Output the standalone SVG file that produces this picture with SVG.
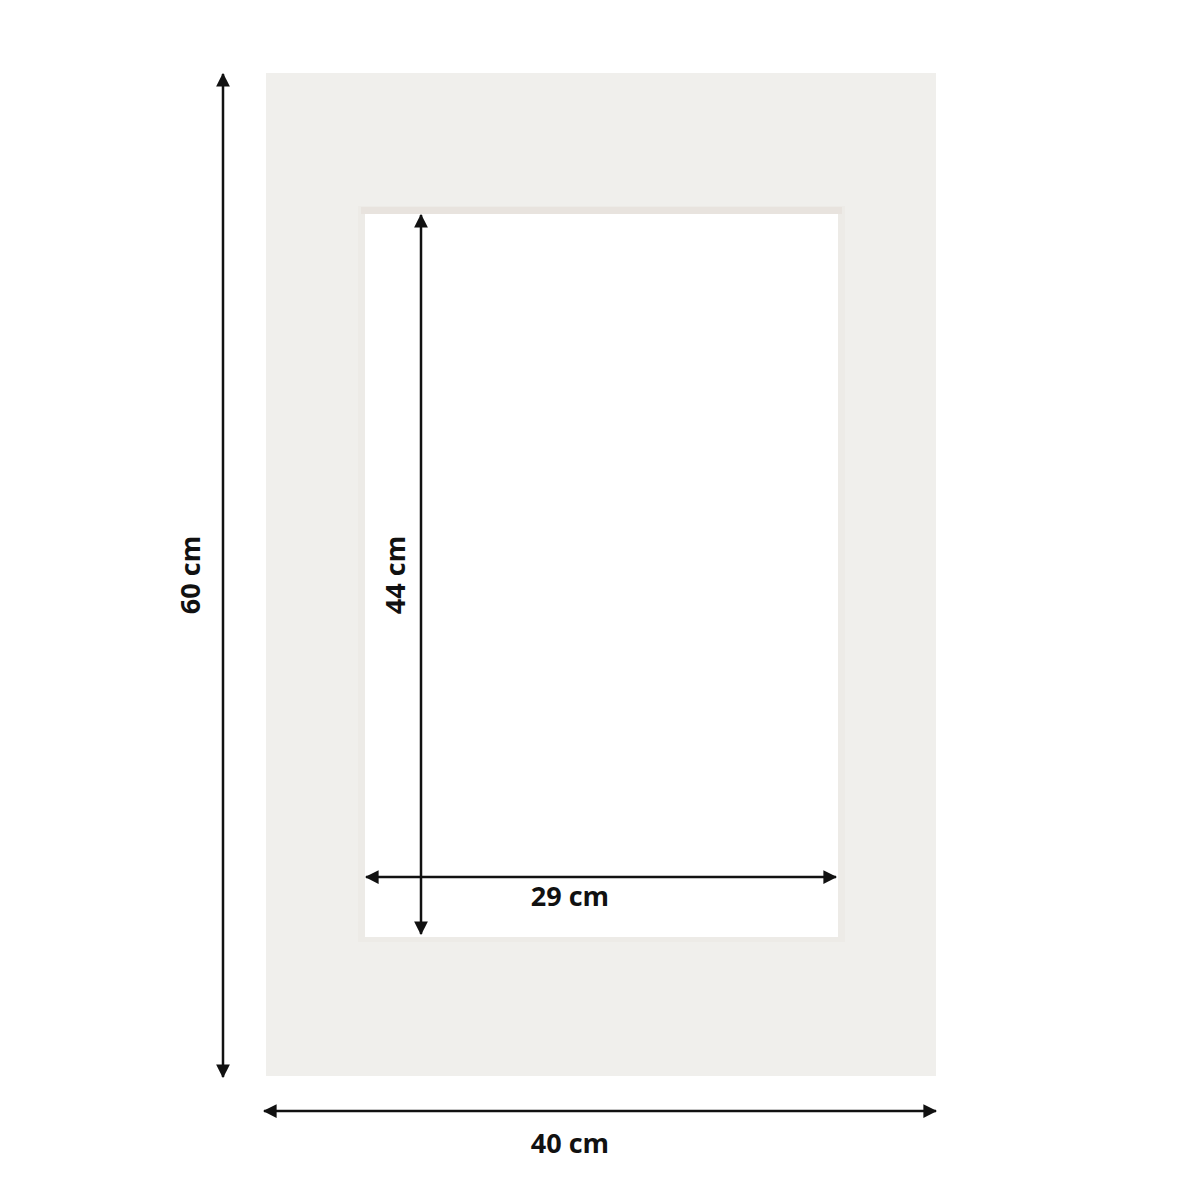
<svg xmlns="http://www.w3.org/2000/svg" width="1200" height="1200" viewBox="0 0 1200 1200">
<style>
.dim{stroke:#111;stroke-width:2.5;fill:none}
.lbl{font-family:"Open Sans","DejaVu Sans",sans-serif;font-weight:700;font-size:27px;fill:#111;text-anchor:middle}
</style>
<defs>
<marker id="ah" viewBox="0 0 12 12" refX="11" refY="6" markerWidth="5.5" markerHeight="5.5" orient="auto-start-reverse" markerUnits="strokeWidth">
<path d="M0,0 L12,6 L0,12 Z" fill="#111"/>
</marker>
</defs>
<rect width="1200" height="1200" fill="#fff"/>
<g id="mat">
<rect x="266" y="73" width="670" height="1003" fill="#f0efec"/>
<rect x="358" y="206" width="487" height="736" fill="#edebe7"/>
<rect x="361" y="207" width="481" height="7" fill="#e8e3de"/>
<rect x="365" y="214" width="473" height="723" fill="#fff"/>
</g>
<g id="connectors">
<line class="dim" x1="223" y1="74" x2="223" y2="1077" marker-start="url(#ah)" marker-end="url(#ah)"/>
<line class="dim" x1="264" y1="1111" x2="936" y2="1111" marker-start="url(#ah)" marker-end="url(#ah)"/>
<line class="dim" x1="421" y1="215" x2="421" y2="934" marker-start="url(#ah)" marker-end="url(#ah)"/>
<line class="dim" x1="366" y1="877" x2="836" y2="877" marker-start="url(#ah)" marker-end="url(#ah)"/>
</g>
<g id="labels">
<text class="lbl" transform="translate(200,575) rotate(-90)">60 cm</text>
<text class="lbl" transform="translate(405,575) rotate(-90)">44 cm</text>
<text class="lbl" x="570" y="906">29 cm</text>
<text class="lbl" x="570" y="1153">40 cm</text>
</g>
</svg>
